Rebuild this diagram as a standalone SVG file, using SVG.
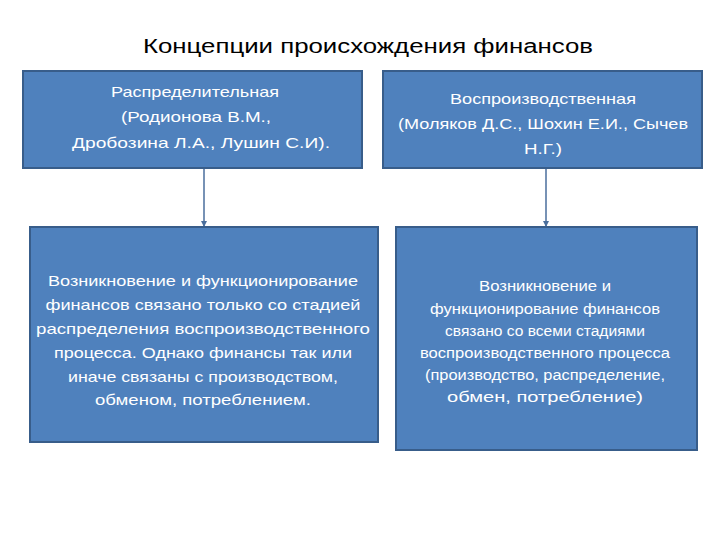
<svg xmlns="http://www.w3.org/2000/svg" width="720" height="540" viewBox="0 0 720 540">
<style>
.box{fill:#4F81BD;stroke:#385D8A;stroke-width:2}
.t{font-family:"Liberation Sans","Noto Sans",sans-serif;fill:#FFFFFF;text-anchor:middle}
.title{font-family:"Liberation Sans","Noto Sans",sans-serif;fill:#000000;text-anchor:middle;font-size:20px}
.c{stroke:#4A6E9C;stroke-width:1.5;fill:none}
</style>
<defs>
<marker id="ah" viewBox="0 0 6 6" refX="5" refY="3" markerWidth="4" markerHeight="4" orient="auto">
<path d="M0,0 L6,3 L0,6 z" fill="#4A6E9C"/>
</marker>
</defs>
<rect width="720" height="540" fill="#FFFFFF"/>
<text class="title" x="368" y="53" textLength="450" lengthAdjust="spacingAndGlyphs">Концепции происхождения финансов</text>
<g id="connectors">
<line class="c" x1="204" y1="168" x2="204" y2="226" marker-end="url(#ah)"/>
<line class="c" x1="546" y1="168" x2="546" y2="226" marker-end="url(#ah)"/>
</g>
<g id="node-top-left">
<rect class="box" x="23" y="71" width="339" height="97"/>
<text class="t" font-size="15" x="195" y="97" textLength="168" lengthAdjust="spacingAndGlyphs">Распределительная</text>
<text class="t" font-size="15" x="196" y="122" textLength="150" lengthAdjust="spacingAndGlyphs">(Родионова В.М.,</text>
<text class="t" font-size="15" x="201" y="148" textLength="258" lengthAdjust="spacingAndGlyphs">Дробозина Л.А., Лушин С.И).</text>
</g>
<g id="node-top-right">
<rect class="box" x="383" y="71" width="319" height="97"/>
<text class="t" font-size="15" x="543" y="104" textLength="186" lengthAdjust="spacingAndGlyphs">Воспроизводственная</text>
<text class="t" font-size="15" x="543" y="129" textLength="290" lengthAdjust="spacingAndGlyphs">(Моляков Д.С., Шохин Е.И., Сычев</text>
<text class="t" font-size="15" x="543" y="154" textLength="38" lengthAdjust="spacingAndGlyphs">Н.Г.)</text>
</g>
<g id="node-bottom-left">
<rect class="box" x="30" y="227" width="348" height="215"/>
<text class="t" font-size="15" x="203" y="286" textLength="310" lengthAdjust="spacingAndGlyphs">Возникновение и функционирование</text>
<text class="t" font-size="15" x="203" y="310" textLength="315" lengthAdjust="spacingAndGlyphs">финансов связано только со стадией</text>
<text class="t" font-size="15" x="203" y="334" textLength="334" lengthAdjust="spacingAndGlyphs">распределения воспроизводственного</text>
<text class="t" font-size="15" x="203" y="358" textLength="298" lengthAdjust="spacingAndGlyphs">процесса. Однако финансы так или</text>
<text class="t" font-size="15" x="203" y="382" textLength="270" lengthAdjust="spacingAndGlyphs">иначе связаны с производством,</text>
<text class="t" font-size="15" x="203" y="405" textLength="216" lengthAdjust="spacingAndGlyphs">обменом, потреблением.</text>
</g>
<g id="node-bottom-right">
<rect class="box" x="396" y="227" width="301" height="223"/>
<text class="t" font-size="14" x="545" y="291" textLength="132" lengthAdjust="spacingAndGlyphs">Возникновение и</text>
<text class="t" font-size="14" x="545" y="314" textLength="230" lengthAdjust="spacingAndGlyphs">функционирование финансов</text>
<text class="t" font-size="14" x="545" y="336" textLength="200" lengthAdjust="spacingAndGlyphs">связано со всеми стадиями</text>
<text class="t" font-size="14" x="545" y="358" textLength="250" lengthAdjust="spacingAndGlyphs">воспроизводственного процесса</text>
<text class="t" font-size="14" x="545" y="380" textLength="240" lengthAdjust="spacingAndGlyphs">(производство, распределение,</text>
<text class="t" font-size="14" x="545" y="402" textLength="196" lengthAdjust="spacingAndGlyphs">обмен, потребление)</text>
</g>
</svg>
